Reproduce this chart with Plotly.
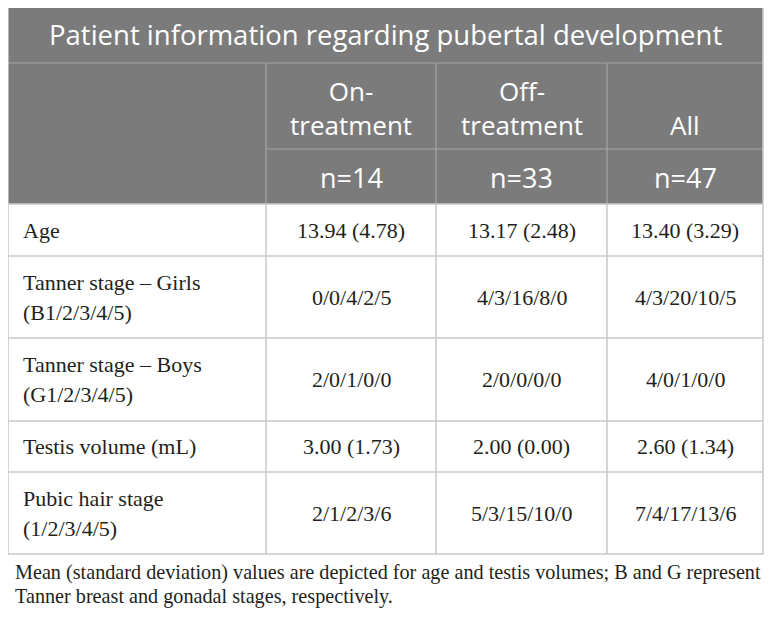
import plotly.graph_objects as go

# ---------------- data ----------------
title_text = "Patient information regarding pubertal development"
group_names = ["On-<br>treatment", "Off-<br>treatment", "All"]
group_n = ["n=14", "n=33", "n=47"]
row_labels = [
    ["Age"],
    ["Tanner stage – Girls", "(B1/2/3/4/5)"],
    ["Tanner stage – Boys", "(G1/2/3/4/5)"],
    ["Testis volume (mL)"],
    ["Pubic hair stage", "(1/2/3/4/5)"],
]
on_treatment = ["13.94 (4.78)", "0/0/4/2/5", "2/0/1/0/0", "3.00 (1.73)", "2/1/2/3/6"]
off_treatment = ["13.17 (2.48)", "4/3/16/8/0", "2/0/0/0/0", "2.00 (0.00)", "5/3/15/10/0"]
all_patients = ["13.40 (3.29)", "4/3/20/10/5", "4/0/1/0/0", "2.60 (1.34)", "7/4/17/13/6"]
caption_lines = [
    "Mean (standard deviation) values are depicted for age and testis volumes; B and G represent",
    "Tanner breast and gonadal stages, respectively.",
]

# ---------------- layout (page-pixel geometry) ----------------
PAGE_W, PAGE_H = 772, 621
OFF = 8  # default page body margin
col_x = [8, 266, 436, 607, 763]
title_y = [7, 63]
head1_y = [63, 149]
head2_y = [149, 204]
row_y = [204, 256, 338, 421, 472, 554]

HEAD_BG = "#7b7b7b"
HEAD_LINE = "#a6a6a6"
GRID = "#c9c9c9"
TXT = "#231f20"
HEAD_FONT = "Open Sans"
BODY_FONT = "Liberation Serif"

fig = go.Figure()
fig.add_trace(go.Scatter(x=[OFF, PAGE_W], y=[OFF, PAGE_H], mode="markers",
                         marker=dict(opacity=0), hoverinfo="skip", showlegend=False))

shapes = []
shapes.append(dict(type="rect", x0=col_x[0], x1=col_x[-1], y0=title_y[0], y1=head2_y[1],
                   fillcolor=HEAD_BG, line=dict(width=0), layer="below"))
shapes.append(dict(type="line", x0=col_x[0], x1=col_x[-1], y0=title_y[1], y1=title_y[1],
                   line=dict(color=HEAD_LINE, width=1.2)))
shapes.append(dict(type="line", x0=col_x[1], x1=col_x[-1], y0=head2_y[0], y1=head2_y[0],
                   line=dict(color=HEAD_LINE, width=1.2)))
for cx in col_x[1:-1]:
    shapes.append(dict(type="line", x0=cx, x1=cx, y0=title_y[1], y1=head2_y[1],
                       line=dict(color=HEAD_LINE, width=1.2)))
shapes.append(dict(type="rect", x0=col_x[0], x1=col_x[-1], y0=title_y[0], y1=row_y[-1],
                   line=dict(color=GRID, width=1.5), fillcolor="rgba(0,0,0,0)"))
for ry in row_y[:-1]:
    shapes.append(dict(type="line", x0=col_x[0], x1=col_x[-1], y0=ry, y1=ry,
                       line=dict(color=GRID, width=1.5)))
for cx in col_x[1:-1]:
    shapes.append(dict(type="line", x0=cx, x1=cx, y0=row_y[0], y1=row_y[-1],
                       line=dict(color=GRID, width=1.5)))

ann = []
ann.append(dict(x=(col_x[0] + col_x[-1]) / 2 - 0.5, y=(title_y[0] + title_y[1]) / 2 - 0.5,
                text=title_text, showarrow=False, xanchor="center", yanchor="middle",
                font=dict(family=HEAD_FONT, size=27.5, color="white")))
for i, g in enumerate(group_names):
    cx = (col_x[i + 1] + col_x[i + 2]) / 2
    ann.append(dict(x=cx, y=head1_y[1] - 4, text=g, showarrow=False,
                    xanchor="center", yanchor="bottom",
                    font=dict(family=HEAD_FONT, size=26, color="white")))
    ann.append(dict(x=cx, y=(head2_y[0] + head2_y[1]) / 2 + 1, text=group_n[i], showarrow=False,
                    xanchor="center", yanchor="middle",
                    font=dict(family=HEAD_FONT, size=27, color="white")))
cols = [on_treatment, off_treatment, all_patients]
for r, lab in enumerate(row_labels):
    cy = (row_y[r] + row_y[r + 1]) / 2
    n = len(lab)
    for k, line in enumerate(lab):
        ly = cy + (k - (n - 1) / 2) * 30
        ann.append(dict(x=col_x[0] + 13, y=ly, text=line, showarrow=False,
                        xanchor="left", yanchor="middle",
                        font=dict(family=BODY_FONT, size=22, color=TXT)))
    for c, vals in enumerate(cols):
        cx = (col_x[c + 1] + col_x[c + 2]) / 2
        ann.append(dict(x=cx, y=cy, text=vals[r], showarrow=False,
                        xanchor="center", yanchor="middle",
                        font=dict(family=BODY_FONT, size=22, color=TXT)))
for k, line in enumerate(caption_lines):
    ann.append(dict(x=13, y=572 + k * 24, text=line, showarrow=False,
                    xanchor="left", yanchor="middle",
                    font=dict(family=BODY_FONT, size=20.2, color=TXT)))

fig.update_layout(
    width=PAGE_W - OFF, height=PAGE_H - OFF, margin=dict(l=0, r=0, t=0, b=0),
    paper_bgcolor="white", plot_bgcolor="white",
    xaxis=dict(range=[OFF, PAGE_W], visible=False, fixedrange=True),
    yaxis=dict(range=[PAGE_H, OFF], visible=False, fixedrange=True),
    shapes=shapes, annotations=ann, showlegend=False,
)
fig.write_html("out.html")
